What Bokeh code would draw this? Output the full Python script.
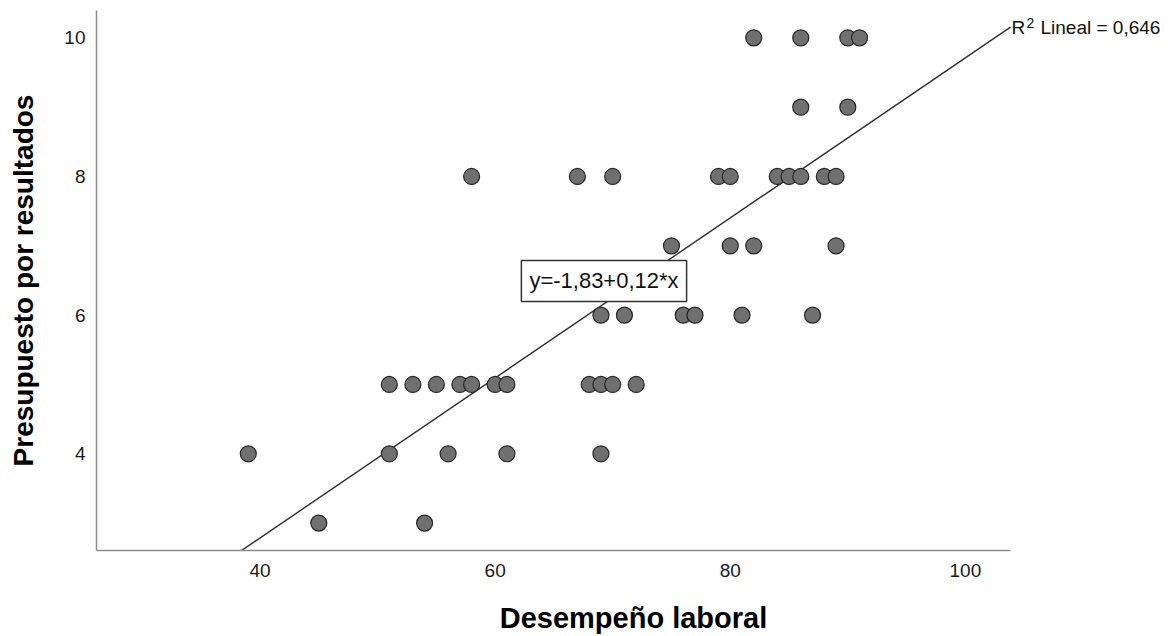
from bokeh.plotting import figure
from bokeh.models import Range1d, FixedTicker, Label
from bokeh.embed import file_html
from bokeh.resources import INLINE

# ---- data ----
desempeno = [82, 86, 90, 91,
             86, 90,
             58, 67, 70, 79, 80, 84, 85, 86, 88, 89,
             75, 80, 82, 89,
             69, 71, 76, 77, 81, 87,
             51, 53, 55, 57, 58, 60, 61, 68, 69, 70, 72,
             39, 51, 56, 61, 69,
             45, 54]
presupuesto = [10, 10, 10, 10,
               9, 9,
               8, 8, 8, 8, 8, 8, 8, 8, 8, 8,
               7, 7, 7, 7,
               6, 6, 6, 6, 6, 6,
               5, 5, 5, 5, 5, 5, 5, 5, 5, 5, 5,
               4, 4, 4, 4, 4,
               3, 3]
x_ticks = [40, 60, 80, 100]
y_ticks = [4, 6, 8, 10]
REG_INTERCEPT = -1.83
REG_SLOPE = 0.1154
r2_parts = ["R", "2", "Lineal = 0,646"]
eq_text = "y=-1,83+0,12*x"
x_title = "Desempeño laboral"
y_title = "Presupuesto por resultados"

FONT = "Liberation Sans"
# axis extent (data units)
X_START, X_END = 26.09, 103.84
Y_START, Y_END = 2.605, 10.394

# layout (pixels)
W, H = 1172, 636
LEFT, RIGHT, TOP, BOTTOM = 96, 2, 10, 86
AXIS_PX = 914  # drawn length of the x axis
frame_w = W - LEFT - RIGHT
frame_h = H - TOP - BOTTOM
X_VIEW_END = X_START + frame_w * (X_END - X_START) / AXIS_PX
PX_PER_Y = frame_h / (Y_END - Y_START)

p = figure(width=W, height=H, output_backend="svg", toolbar_location=None,
           x_range=Range1d(X_START, X_VIEW_END), y_range=Range1d(Y_START, Y_END),
           min_border_left=LEFT, min_border_right=RIGHT, min_border_top=TOP,
           min_border_bottom=BOTTOM)
p.outline_line_color = None
p.xgrid.visible = False
p.ygrid.visible = False
p.background_fill_color = "white"
p.border_fill_color = "white"

p.xaxis.ticker = FixedTicker(ticks=x_ticks)
p.yaxis.ticker = FixedTicker(ticks=y_ticks)
p.xaxis.bounds = (X_START, X_END)
for ax in (p.xaxis, p.yaxis):
    ax.axis_line_color = "#8c8c8c"
    ax.axis_line_width = 1.5
    ax.major_tick_line_color = None
    ax.minor_tick_line_color = None
    ax.major_tick_out = 0
    ax.major_tick_in = 0
    ax.major_label_text_font = FONT
    ax.major_label_text_font_size = "19px"
    ax.major_label_text_color = "#1a1a1a"
    ax.axis_label_text_font = FONT
    ax.axis_label_text_font_style = "bold"
    ax.axis_label_text_color = "#000000"

p.xaxis.axis_label = x_title
p.yaxis.axis_label = y_title
p.xaxis.axis_label_text_font_size = "29px"
p.yaxis.axis_label_text_font_size = "28px"
p.xaxis.major_label_standoff = 13
p.xaxis.axis_label_standoff = 22
p.yaxis.major_label_standoff = 11
p.yaxis.axis_label_standoff = 22

# regression line across the axis extent
lx = [X_START, X_END]
ly = [REG_INTERCEPT + REG_SLOPE * v for v in lx]
p.line(lx, ly, line_color="#2e2e2e", line_width=1.4)

p.scatter(desempeno, presupuesto, size=16, marker="circle",
          fill_color="#707070", line_color="#262626", line_width=1.2)

y_end_line = REG_INTERCEPT + REG_SLOPE * X_END
p.add_layout(Label(x=X_END, y=y_end_line, text=r2_parts[0],
                   x_offset=1, text_baseline="middle", text_align="left",
                   text_font=FONT, text_font_size="19px", text_color="#111111"))
p.add_layout(Label(x=X_END, y=y_end_line + 4.5 / PX_PER_Y, text=r2_parts[1],
                   x_offset=16, text_baseline="middle", text_align="left",
                   text_font=FONT, text_font_size="14px", text_color="#111111"))
p.add_layout(Label(x=X_END, y=y_end_line, text=r2_parts[2],
                   x_offset=30, text_baseline="middle", text_align="left",
                   text_font=FONT, text_font_size="19px", text_color="#111111"))

p.add_layout(Label(x=69.26, y=6.493, text=eq_text,
                   text_baseline="middle", text_align="center",
                   text_font=FONT, text_font_size="22px", text_color="#111111",
                   background_fill_color="white", border_line_color="#333333",
                   border_line_width=1.5, padding=8))

open("out.html", "w").write(file_html(p, INLINE))
